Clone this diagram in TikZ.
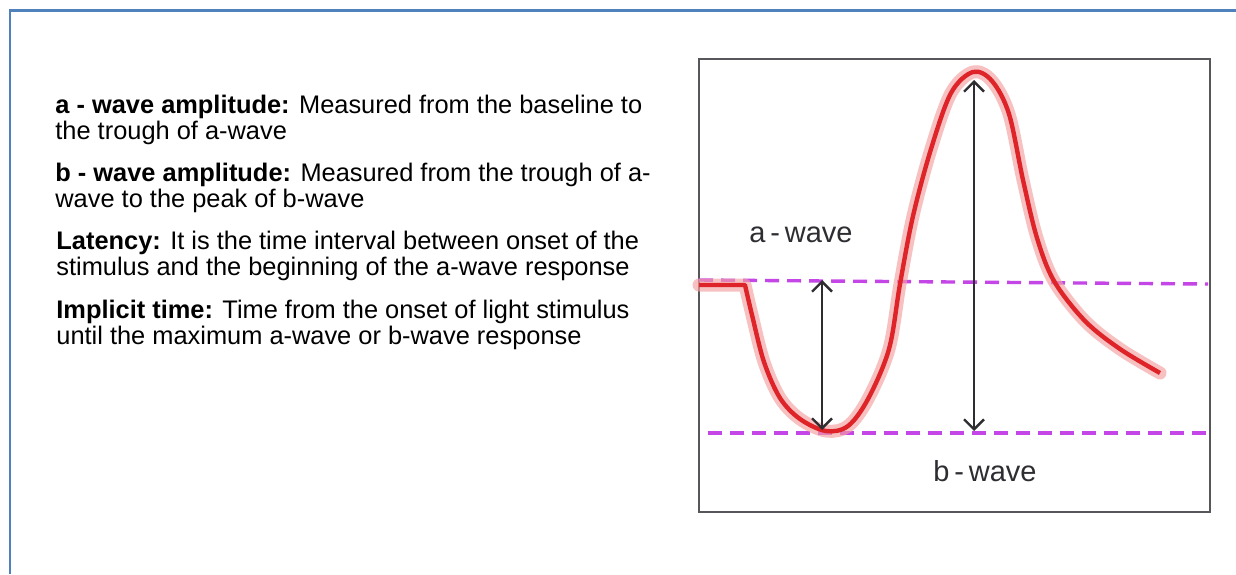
\documentclass[tikz,border=0pt]{standalone}
\usepackage{fontspec}
\setmainfont{Liberation Sans}
\usetikzlibrary{arrows.meta}
\definecolor{frameblue}{RGB}{79,129,189}
\definecolor{dashviolet}{RGB}{196,70,230}
\definecolor{wavered}{RGB}{222,36,40}
\definecolor{halopink}{RGB}{245,160,160}
\definecolor{inkgray}{RGB}{45,45,50}
\tikzset{
  para/.style={anchor=base west, inner sep=0pt, align=left, font=\fontsize{12.7}{13}\selectfont, text=black},
  hand/.style={inner sep=0pt, font=\fontsize{14.5}{16}\selectfont, text=inkgray},
  levelline/.style={dashviolet, line width=1.7pt, dash pattern=on 7pt off 4pt},
  measure/.style={inkgray, line width=1.2pt, {Straight Barb[length=5pt,width=10pt]}-{Straight Barb[length=5pt,width=10pt]}},
  wavehalo/.style={halopink, line width=6.5pt, opacity=0.65, line join=round, line cap=round},
  wave/.style={wavered, line width=2.2pt, line join=round},
}
\begin{document}
\begin{tikzpicture}[x=0.5pt,y=-0.5pt]
\useasboundingbox (0,0) rectangle (1236,574);
% outer frame
\draw[frameblue, line width=1.3pt] (10,574) -- (10,10.5) -- (1236,10.5);
% text (anchor = baseline of last line)
\node[para] (p1) at (55,139) {\textbf{a - wave amplitude:} Measured from the baseline to\\the trough of a-wave};
\node[para] (p2) at (55,207) {\textbf{b - wave amplitude:} Measured from the trough of a-\\wave to the peak of b-wave};
\node[para] (p3) at (56,275) {\textbf{Latency:} It is the time interval between onset of the\\stimulus and the beginning of the a-wave response};
\node[para] (p4) at (56,344) {\textbf{Implicit time:} Time from the onset of light stimulus\\until the maximum a-wave or b-wave response};
% graph frame
\node[draw=inkgray!80, line width=1pt, minimum width=255.5pt, minimum height=226.5pt, anchor=north west, inner sep=0pt, fill=white] (box) at (698,58) {};
% level lines
\coordinate (base1) at (699,280);
\coordinate (base2) at (1208,284);
\coordinate (tr1) at (708,433);
\coordinate (tr2) at (1208,433);
\draw[levelline] (base1) -- (base2);
\draw[levelline] (tr1) -- (tr2);
% wave
\def\wavepath{(699,285) -- plot[smooth, tension=0.55] coordinates {(745,285) (752,315) (764,362) (780,398) (800,419) (826,431) (848,426) (868,399) (889,349) (900,284) (913,216) (931,149) (951,93) (973,72) (992,81) (1009,114) (1023,180) (1037,238) (1054,281) (1085,321) (1120,349) (1160,373)}}
\draw[wavehalo] \wavepath;
\draw[wave] \wavepath;
% arrows
\coordinate (aTop) at (822,280);
\coordinate (aBot) at (822,430);
\coordinate (bTop) at (974,80);
\coordinate (bBot) at (974,431);
\draw[measure] (aBot) -- (aTop);
\draw[measure] (bBot) -- (bTop);
% labels
\node[hand] (alab) at (801,235) {a\,-\,wave};
\node[hand] (blab) at (985,471) {b\,-\,wave};
\end{tikzpicture}
\end{document}
